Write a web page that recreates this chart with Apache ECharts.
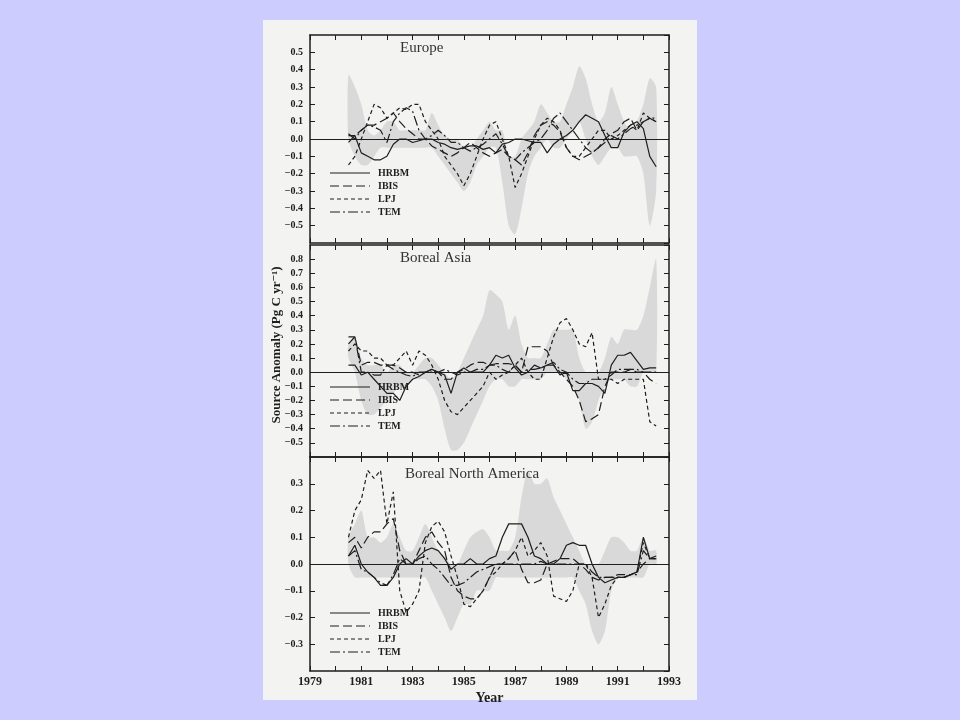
<!DOCTYPE html>
<html><head><meta charset="utf-8">
<script src="https://cdn.jsdelivr.net/npm/echarts@6/dist/echarts.min.js"></script>
<style>
html,body{margin:0;padding:0;background:#ccccff;width:960px;height:720px;overflow:hidden}
#page{position:absolute;left:263px;top:20px;width:434px;height:680px;background:#f3f3f1}
#c{position:absolute;left:0;top:0;width:960px;height:720px}
</style></head><body>
<div id="page"></div><div id="c"></div>
<script>
const years=[1980.5,1980.75,1981,1981.25,1981.5,1981.75,1982,1982.25,1982.5,1982.75,1983,1983.25,1983.5,1983.75,1984,1984.25,1984.5,1984.75,1985,1985.25,1985.5,1985.75,1986,1986.25,1986.5,1986.75,1987,1987.25,1987.5,1987.75,1988,1988.25,1988.5,1988.75,1989,1989.25,1989.5,1989.75,1990,1990.25,1990.5,1990.75,1991,1991.25,1991.5,1991.75,1992,1992.25,1992.5];
const xTicks=[1979,1981,1983,1985,1987,1989,1991,1993];
const modelNames=['HRBM','IBIS','LPJ','TEM'];
const panelTitles=['Europe','Boreal Asia','Boreal North America'];

const euHRBM=[0.02,0.02,-0.08,-0.10,-0.12,-0.12,-0.10,-0.03,0.0,0.0,-0.02,-0.01,0.0,0.0,-0.02,-0.03,-0.05,-0.06,-0.05,-0.04,-0.04,-0.06,-0.05,-0.08,-0.03,-0.02,0.0,0.0,-0.01,-0.02,-0.02,-0.08,-0.03,0.0,0.02,0.05,0.10,0.14,0.12,0.10,0.02,-0.05,-0.05,0.04,0.08,0.10,0.06,-0.10,-0.16];
const euIBIS=[-0.02,0.02,0.05,0.08,0.08,0.10,0.12,0.15,0.10,0.06,0.03,0.0,0.0,-0.04,-0.06,-0.08,-0.10,-0.08,-0.05,-0.02,-0.05,-0.08,-0.10,-0.08,-0.06,-0.10,-0.12,-0.15,-0.08,0.02,0.08,0.10,0.08,0.04,-0.05,-0.10,-0.12,-0.10,-0.08,-0.05,0.0,0.03,0.05,0.10,0.12,0.05,0.10,0.12,0.10];
const euLPJ=[-0.15,-0.10,0.0,0.10,0.20,0.18,0.12,0.15,0.18,0.17,0.20,0.20,0.10,0.05,0.0,-0.10,-0.15,-0.20,-0.27,-0.20,-0.10,0.0,0.08,0.10,0.0,-0.10,-0.28,-0.20,-0.10,0.0,0.08,0.12,0.10,0.05,-0.05,-0.10,-0.10,-0.05,0.0,0.05,0.05,0.0,0.02,0.05,0.08,0.05,0.15,0.12,0.10];
const euTEM=[0.03,0.0,0.05,0.08,0.07,0.05,-0.02,0.10,0.15,0.18,0.16,0.05,0.0,0.02,0.05,0.02,-0.02,-0.02,-0.05,-0.07,-0.05,-0.03,0.0,0.03,-0.03,-0.10,-0.12,-0.08,-0.05,-0.02,0.0,0.05,0.12,0.15,0.10,0.05,0.0,-0.05,-0.08,-0.05,-0.02,0.02,0.0,0.03,0.06,0.08,0.10,0.12,0.12];
const euUpper=[0.37,0.30,0.20,0.05,0.02,0.05,0.10,0.10,0.05,0.05,0.05,0.05,0.05,0.15,0.08,0.02,0.0,0.0,-0.05,-0.05,0.0,0.05,0.10,0.05,0.05,-0.10,-0.10,0.0,0.05,0.10,0.20,0.15,0.10,0.10,0.20,0.30,0.42,0.35,0.20,0.10,0.15,0.30,0.20,0.10,0.05,0.10,0.20,0.35,0.30];
const euLower=[0.0,-0.10,-0.15,-0.15,-0.10,-0.05,-0.05,-0.05,-0.05,-0.05,-0.05,-0.05,-0.05,-0.05,-0.10,-0.15,-0.20,-0.25,-0.30,-0.25,-0.15,-0.10,-0.05,-0.05,-0.25,-0.50,-0.55,-0.40,-0.20,-0.10,-0.05,0.0,-0.05,-0.05,0.0,0.05,0.10,0.0,-0.10,-0.15,-0.10,-0.05,-0.05,-0.10,-0.10,-0.10,-0.20,-0.50,-0.30];

const asHRBM=[0.05,0.05,-0.02,0.0,-0.05,-0.10,-0.15,-0.15,-0.20,-0.10,-0.05,-0.03,0.0,0.02,0.0,-0.02,-0.15,0.0,0.03,0.0,0.0,0.0,0.05,0.12,0.10,0.12,0.03,-0.02,0.0,0.05,0.03,0.05,0.05,-0.02,0.0,-0.13,-0.13,-0.08,-0.08,-0.10,-0.15,0.05,0.12,0.12,0.14,0.08,0.02,0.03,0.03];
const asIBIS=[0.20,0.25,0.05,0.07,0.07,0.05,0.05,0.05,0.03,0.0,0.0,-0.02,0.0,0.02,0.0,-0.05,-0.05,0.0,0.02,0.05,0.07,0.07,0.05,0.06,0.06,0.06,0.05,0.0,0.18,0.18,0.18,0.15,0.05,0.0,-0.05,-0.10,-0.20,-0.35,-0.33,-0.30,-0.10,0.0,0.0,0.0,0.02,0.0,0.0,-0.05,-0.08];
const asLPJ=[0.15,0.20,0.15,0.15,0.10,0.10,0.05,0.05,0.10,0.15,0.05,0.15,0.12,0.05,-0.05,-0.20,-0.28,-0.30,-0.25,-0.20,-0.15,-0.10,0.0,-0.05,-0.02,0.0,0.05,0.10,0.0,-0.05,-0.05,0.10,0.25,0.35,0.38,0.30,0.20,0.18,0.28,-0.05,-0.05,-0.05,-0.08,-0.05,-0.05,-0.05,-0.05,-0.35,-0.38];
const asTEM=[0.25,0.25,0.0,0.0,-0.02,-0.02,0.05,0.02,0.0,-0.02,-0.03,0.0,0.0,0.0,0.0,0.02,0.0,-0.02,0.0,0.0,0.02,0.02,0.05,0.05,0.02,0.0,0.05,0.0,0.02,0.02,0.03,0.05,0.07,0.02,0.0,-0.05,-0.08,-0.08,-0.05,-0.05,-0.05,-0.02,0.02,0.02,0.02,0.02,0.0,0.0,0.0];
const asUpper=[0.20,0.25,0.10,0.05,0.05,0.05,0.0,0.05,0.05,0.0,0.0,0.05,0.10,0.10,0.05,0.0,-0.05,0.0,0.10,0.20,0.30,0.40,0.58,0.55,0.50,0.30,0.40,0.20,0.10,0.10,0.10,0.20,0.30,0.30,0.30,0.30,0.10,0.0,0.0,0.0,0.10,0.25,0.20,0.30,0.30,0.30,0.40,0.60,0.80];
const asLower=[0.10,0.0,-0.20,-0.30,-0.30,-0.25,-0.20,-0.15,-0.10,-0.10,-0.05,-0.05,-0.05,-0.10,-0.20,-0.40,-0.55,-0.55,-0.50,-0.40,-0.30,-0.20,-0.10,-0.05,-0.05,-0.10,-0.10,-0.05,-0.05,-0.05,-0.05,0.0,0.0,0.0,-0.05,-0.10,-0.20,-0.40,-0.35,-0.20,-0.10,-0.05,-0.05,-0.05,-0.10,-0.10,0.0,0.0,0.0];

const naHRBM=[0.03,0.07,0.0,-0.03,-0.05,-0.08,-0.08,-0.05,0.0,0.02,0.0,0.03,0.05,0.06,0.05,0.02,-0.02,0.0,0.0,0.02,0.0,0.0,0.02,0.03,0.10,0.15,0.15,0.15,0.10,0.03,0.02,0.0,0.0,0.02,0.07,0.08,0.07,0.07,0.0,-0.05,-0.07,-0.06,-0.05,-0.05,-0.04,-0.03,0.10,0.02,0.03];
const naIBIS=[0.08,0.10,0.06,0.10,0.12,0.12,0.15,0.17,0.05,0.0,0.0,0.05,0.10,0.12,0.08,0.05,-0.05,-0.10,-0.12,-0.13,-0.13,-0.10,-0.05,0.0,0.0,0.02,0.05,-0.02,-0.07,-0.07,-0.06,0.0,0.01,0.02,0.02,0.02,0.0,-0.02,-0.05,-0.06,-0.05,-0.05,-0.04,-0.04,-0.04,-0.03,0.0,0.02,0.02];
const naLPJ=[0.10,0.20,0.24,0.35,0.32,0.35,0.15,0.27,-0.10,-0.18,-0.15,-0.10,0.08,0.14,0.16,0.12,0.03,-0.05,-0.15,-0.16,-0.13,-0.10,-0.05,-0.03,0.0,0.02,0.05,0.10,0.03,0.05,0.08,0.03,-0.12,-0.13,-0.14,-0.10,0.0,0.0,-0.05,-0.20,-0.15,-0.08,-0.05,-0.05,-0.04,-0.03,0.08,0.02,0.02];
const naTEM=[0.03,0.05,-0.02,-0.03,-0.05,-0.07,-0.08,-0.04,0.02,0.0,0.0,0.02,0.03,0.0,-0.02,-0.05,-0.08,-0.08,-0.07,-0.05,-0.03,-0.02,-0.01,0.0,0.0,0.0,0.0,0.0,0.0,0.0,0.01,0.0,0.0,0.0,0.0,0.0,0.0,0.0,-0.03,-0.05,-0.05,-0.05,-0.05,-0.05,-0.04,-0.04,0.05,0.02,0.02];
const naUpper=[0.10,0.15,0.20,0.10,0.10,0.08,0.10,0.15,0.10,0.05,0.05,0.10,0.15,0.10,0.05,0.03,0.0,0.0,0.05,0.10,0.12,0.13,0.10,0.05,0.05,0.05,0.10,0.25,0.35,0.30,0.30,0.32,0.25,0.20,0.15,0.10,0.05,0.0,0.0,0.0,0.05,0.10,0.10,0.08,0.05,0.05,0.10,0.05,0.05];
const naLower=[0.0,-0.05,-0.05,-0.05,-0.05,-0.05,-0.05,-0.05,-0.05,-0.05,-0.05,-0.05,-0.05,-0.10,-0.15,-0.20,-0.25,-0.20,-0.15,-0.15,-0.10,-0.10,-0.10,-0.05,-0.05,-0.05,-0.05,-0.05,-0.05,-0.05,-0.05,-0.05,-0.05,-0.05,-0.05,-0.05,-0.10,-0.15,-0.25,-0.30,-0.25,-0.10,-0.05,-0.05,-0.05,-0.05,-0.05,0.0,0.0];

const panels=[
 {title:panelTitles[0],lines:[euHRBM,euIBIS,euLPJ,euTEM],up:euUpper,lo:euLower,min:-0.6,max:0.6,top:35,height:208},
 {title:panelTitles[1],lines:[asHRBM,asIBIS,asLPJ,asTEM],up:asUpper,lo:asLower,min:-0.6,max:0.9,top:245,height:212},
 {title:panelTitles[2],lines:[naHRBM,naIBIS,naLPJ,naTEM],up:naUpper,lo:naLower,min:-0.4,max:0.4,top:457,height:214}
];
const dashes=['solid',[9,4],[4,3],[10,3,2,3]];
const ink='#1e1e1e';
const font='"Liberation Serif", "DejaVu Serif", serif';
const grid=[],xAxis=[],yAxis=[],series=[],graphic=[];
const axLine={onZero:false,lineStyle:{color:ink,width:1.5}};
const tick={inside:true,length:5,lineStyle:{color:ink}};
panels.forEach((p,i)=>{
  grid.push({left:310,width:359,top:p.top,height:p.height});
  const last=i===2;
  const xb={type:'value',min:1979,max:1993,interval:1,gridIndex:i,axisLine:axLine,axisTick:tick,splitLine:{show:false},
    axisLabel:{show:last,fontFamily:font,fontWeight:'bold',color:ink,fontSize:12,margin:5,
      formatter:v=>xTicks.indexOf(v)>=0?String(v):''}};
  if(last){xb.name='Year';xb.nameLocation='middle';xb.nameGap=20;xb.nameTextStyle={fontFamily:font,fontWeight:'bold',fontSize:14,color:ink};}
  xAxis.push(xb);
  xAxis.push({type:'value',min:1979,max:1993,interval:1,gridIndex:i,position:'top',axisLine:axLine,axisTick:tick,axisLabel:{show:false},splitLine:{show:false}});
  yAxis.push({type:'value',min:p.min,max:p.max,interval:0.1,gridIndex:i,axisLine:axLine,axisTick:tick,splitLine:{show:false},
    axisLabel:{showMinLabel:false,showMaxLabel:false,fontFamily:font,fontWeight:'bold',color:ink,fontSize:10,margin:7,
      formatter:v=>v.toFixed(1).replace('-','\u2212')}});
  yAxis.push({type:'value',min:p.min,max:p.max,interval:0.1,gridIndex:i,position:'right',axisLine:axLine,axisTick:tick,axisLabel:{show:false},splitLine:{show:false}});
  const xi=i*2,yi=i*2;
  series.push({type:'custom',xAxisIndex:xi,yAxisIndex:yi,silent:true,data:[0],z:1,
    renderItem:(params,api)=>{
      const pts=[];
      years.forEach((y,k)=>pts.push(api.coord([y,p.up[k]])));
      for(let k=years.length-1;k>=0;k--)pts.push(api.coord([years[k],p.lo[k]]));
      return {type:'polygon',shape:{points:pts,smooth:0.25},style:{fill:'#d6d6d6',opacity:0.9}};
    },
    markLine:{silent:true,symbol:'none',label:{show:false},lineStyle:{color:ink,type:'solid',width:1.2},data:[{yAxis:0}]}});
  p.lines.forEach((arr,m)=>{
    series.push({type:'line',name:modelNames[m],xAxisIndex:xi,yAxisIndex:yi,data:years.map((y,k)=>[y,arr[k]]),z:3,
      showSymbol:false,symbol:'none',lineStyle:{color:ink,width:1.2,type:dashes[m]}});
  });
  const ly=p.top+p.height-(last?58:70);
  modelNames.forEach((n,m)=>{
    graphic.push({type:'line',z:100,shape:{x1:330,y1:ly+m*13,x2:370,y2:ly+m*13},style:{stroke:ink,lineWidth:1.2,lineDash:dashes[m]==='solid'?null:dashes[m]}});
    graphic.push({type:'text',z:100,x:378,y:ly+m*13,style:{text:n,font:'bold 10px '+font,fill:ink,verticalAlign:'middle'}});
  });
  graphic.push({type:'text',z:100,left:i===2?405:400,top:p.top+(i===2?10:6),style:{text:p.title,font:'15px '+font,fill:'#333'}});
});
graphic.push({type:'text',z:100,x:277,y:345,rotation:Math.PI/2,style:{text:'Source Anomaly (Pg C yr⁻¹)',font:'bold 13px '+font,fill:ink,align:'center',verticalAlign:'middle'}});
const chart=echarts.init(document.getElementById('c'));
chart.setOption({animation:false,backgroundColor:'transparent',grid,xAxis,yAxis,series,graphic});
</script></body></html>
